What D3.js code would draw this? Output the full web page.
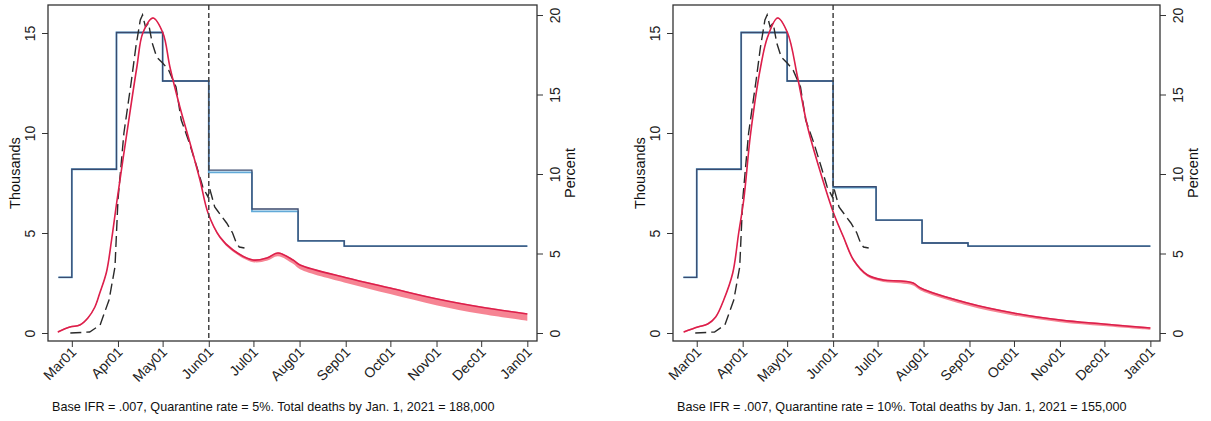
<!DOCTYPE html>
<html>
<head>
<meta charset="utf-8">
<script src="https://cdn.jsdelivr.net/npm/d3@7"></script>
<style>
  body { margin: 0; background: #fff; overflow: hidden; }
  svg { display: block; font-family: "Liberation Sans", Arial, sans-serif; }
  .tick line { stroke: #333; }
  .tick text { fill: #222; font-size: 14px; }
</style>
</head>
<body>
<div id="chart"></div>
<script>
// ── DATA ─────────────────────────────────────────────────────────────
// days are counted from Mar 1, 2020
const monthTicks = ["2020-03-01", "2020-04-01", "2020-05-01", "2020-06-01", "2020-07-01",
                    "2020-08-01", "2020-09-01", "2020-10-01", "2020-11-01", "2020-12-01", "2021-01-01"];
const yLeftTicks = [0, 5, 10, 15];
const yRightTicks = [0, 5, 10, 15, 20];
const cutoffDay = 92;   // Jun01

// observed deaths (thousands), same in both panels
const observed = [
  [-1, 0], [12, 0.05], [19, 0.4], [25, 1.65], [29, 3.3], [31, 6.65], [35, 10], [40, 12.6],
  [43, 14.3], [46, 15.65], [47.5, 15.9], [49.5, 15.3], [51.5, 15.5], [54, 14.5], [57, 13.8],
  [61, 13.5], [65, 13.15], [70, 12.3], [73.5, 10.65], [79, 9.5], [84, 8.3], [88, 7.3],
  [91.5, 6.8], [92.5, 7.25], [96, 6.3], [97.5, 6.15], [104, 5.5], [108, 5.0], [110.5, 4.5],
  [112.5, 4.3], [116, 4.25]
];

// model deaths (thousands): [day, value, band spread below]
const modelL = [
  [-9.4, 0.05, 0], [-1.3, 0.3, 0], [5.4, 0.4, 0], [10.8, 0.75, 0], [15.5, 1.3, 0], [18.8, 2.0, 0],
  [23.3, 3.05, 0], [26.7, 4.65, 0], [30.3, 6.6, 0], [37, 10, 0], [43.7, 13.3, 0], [47.7, 15, 0],
  [54.5, 15.75, 0], [61.2, 15, 0], [65.9, 13.3, 0], [72.6, 11.3, 0], [79.4, 9.5, 0], [86.1, 7.65, 0],
  [91.5, 6.0, 0], [99.5, 4.8, 0.04], [108.3, 4.15, 0.05], [121.7, 3.65, 0.07], [131, 3.75, 0.1],
  [138.5, 4.0, 0.12], [148.6, 3.65, 0.15], [153.3, 3.4, 0.17], [185, 2.75, 0.22],
  [213.8, 2.25, 0.26], [245.5, 1.7, 0.28], [274.4, 1.3, 0.3], [306, 0.95, 0.3]
];
const modelR = [
  [-8.8, 0.05, 0], [0.7, 0.3, 0], [7.4, 0.45, 0], [12.8, 0.8, 0], [18.2, 1.65, 0], [24.3, 3, 0],
  [28.3, 5, 0], [31.7, 6.65, 0], [36.4, 10, 0], [43.1, 13.3, 0], [47.8, 14.8, 0], [54.6, 15.75, 0],
  [61.3, 15, 0], [68, 12.8, 0], [74.8, 10.3, 0], [83.6, 8, 0], [92.3, 6, 0], [99, 4.8, 0.03],
  [105.8, 3.65, 0.04], [115.2, 2.9, 0.05], [126, 2.65, 0.06], [137.5, 2.6, 0.07], [146, 2.5, 0.08],
  [151, 2.25, 0.08], [182.6, 1.5, 0.08], [213.6, 1.0, 0.08], [245.3, 0.65, 0.07],
  [274.3, 0.45, 0.06], [306, 0.25, 0.05]
];

// step series (percent, right axis)
const stepDays  = [-9, 0, 30, 61, 92, 121, 152, 183, 306];
const stepL     = [3.5, 10.3, 18.9, 15.85, 10.25, 7.8, 5.8, 5.47];
const stepAltL  = [3.5, 10.3, 18.9, 15.85, 10.1, 7.65, 5.8, 5.47];
const stepR     = [3.5, 10.3, 18.9, 15.85, 9.2, 7.1, 5.66, 5.47];
const stepAltR  = [3.5, 10.3, 18.9, 15.85, 9.15, 7.1, 5.66, 5.47];

const captionL = "Base IFR = .007, Quarantine rate = 5%. Total deaths by Jan. 1, 2021 = 188,000";
const captionR = "Base IFR = .007, Quarantine rate = 10%. Total deaths by Jan. 1, 2021 = 155,000";

(function () {
  const width = 1211, height = 421;
  const plotTop = 5, plotBottom = 341;
  const base = Date.UTC(2020, 2, 1);
  const toDate = d => new Date(base + d * 864e5);
  const fmt = d3.utcFormat("%b%d");

  const svg = d3.select("#chart").append("svg")
      .attr("width", width).attr("height", height);
  svg.append("rect").attr("width", width).attr("height", height).attr("fill", "#fff");

  const panels = [
    { x0: 48, x1: 537, model: modelL, step: stepL, stepAlt: stepAltL, caption: captionL },
    { x0: 673, x1: 1160, model: modelR, step: stepR, stepAlt: stepAltR, caption: captionR }
  ];

  const yL = d3.scaleLinear().domain([-0.4, 16.4]).range([plotBottom, plotTop]);
  const yR = d3.scaleLinear().domain([-0.503, 20.63]).range([plotBottom, plotTop]);

  function stepPoints(vals) {
    const pts = vals.map((v, i) => [stepDays[i], v]);
    pts.push([stepDays[stepDays.length - 1], vals[vals.length - 1]]);
    return pts;
  }

  panels.forEach(p => {
    const x = d3.scaleUtc().domain([toDate(-16), toDate(312.5)]).range([p.x0, p.x1]);
    const g = svg.append("g");

    // step lines (percent)
    const stepLine = d3.line().curve(d3.curveStepAfter)
        .x(d => x(toDate(d[0]))).y(d => yR(d[1]));
    g.append("path").attr("d", stepLine(stepPoints(p.stepAlt)))
        .attr("fill", "none").attr("stroke", "#62aad8").attr("stroke-width", 1.8);
    g.append("path").attr("d", stepLine(stepPoints(p.step)))
        .attr("fill", "none").attr("stroke", "#3a4a6e").attr("stroke-width", 1.3);

    // observed (dashed)
    const obsLine = d3.line().x(d => x(toDate(d[0]))).y(d => yL(d[1]));
    g.append("path").attr("d", obsLine(observed))
        .attr("fill", "none").attr("stroke", "#2a2a2a").attr("stroke-width", 1.4)
        .attr("stroke-dasharray", "11,5");

    // model band + line
    const band = d3.area().curve(d3.curveCatmullRom)
        .x(d => x(toDate(d[0])))
        .y0(d => yL(d[1] - d[2] - 0.04))
        .y1(d => yL(d[1] + 0.04));
    g.append("path").attr("d", band(p.model))
        .attr("fill", "#f46e80").attr("opacity", 0.85);
    const modelLine = d3.line().curve(d3.curveCatmullRom)
        .x(d => x(toDate(d[0]))).y(d => yL(d[1]));
    g.append("path").attr("d", modelLine(p.model))
        .attr("fill", "none").attr("stroke", "#dc1f4b").attr("stroke-width", 1.6);

    // cutoff line
    g.append("line")
        .attr("x1", x(toDate(cutoffDay))).attr("x2", x(toDate(cutoffDay)))
        .attr("y1", plotTop).attr("y2", plotBottom)
        .attr("stroke", "#444").attr("stroke-width", 1.5).attr("stroke-dasharray", "5,3");

    // frame
    g.append("rect")
        .attr("x", p.x0).attr("y", plotTop)
        .attr("width", p.x1 - p.x0).attr("height", plotBottom - plotTop)
        .attr("fill", "none").attr("stroke", "#333").attr("stroke-width", 1.3);

    // axes
    g.append("g").attr("transform", `translate(${p.x0},0)`)
        .call(d3.axisLeft(yL).tickValues(yLeftTicks).tickSize(6).tickFormat(d3.format("d")))
        .call(a => a.select(".domain").remove())
        .call(a => a.selectAll("text").attr("x", 0).attr("dy", 0)
            .attr("text-anchor", "middle").attr("transform", "translate(-13,0) rotate(-90)"));

    g.append("g").attr("transform", `translate(${p.x1},0)`)
        .call(d3.axisRight(yR).tickValues(yRightTicks).tickSize(6).tickFormat(d3.format("d")))
        .call(a => a.select(".domain").remove())
        .call(a => a.selectAll("text").attr("x", 0).attr("dy", 0)
            .attr("text-anchor", "middle").attr("transform", "translate(23,0) rotate(-90)"));

    g.append("g").attr("transform", `translate(0,${plotBottom})`)
        .call(d3.axisBottom(x).tickValues(monthTicks.map(s => new Date(s + "T00:00:00Z")))
            .tickSize(6).tickFormat(fmt))
        .call(a => a.select(".domain").remove())
        .call(a => a.selectAll("text").attr("x", 0).attr("y", 0).attr("dy", 0)
            .attr("text-anchor", "end").attr("transform", "translate(5,12) rotate(-45)"));

    // axis titles
    g.append("text").attr("transform", `translate(${p.x0 - 28},173) rotate(-90)`)
        .attr("text-anchor", "middle").attr("font-size", 14.5).attr("fill", "#111")
        .text("Thousands");
    g.append("text").attr("transform", `translate(${p.x1 + 38},173) rotate(-90)`)
        .attr("text-anchor", "middle").attr("font-size", 14.5).attr("fill", "#111")
        .text("Percent");

    // caption
    g.append("text").attr("x", p.x0 + 4).attr("y", 411)
        .attr("font-size", 12.6).attr("fill", "#111")
        .text(p.caption);
  });
})();
</script>
</body>
</html>
